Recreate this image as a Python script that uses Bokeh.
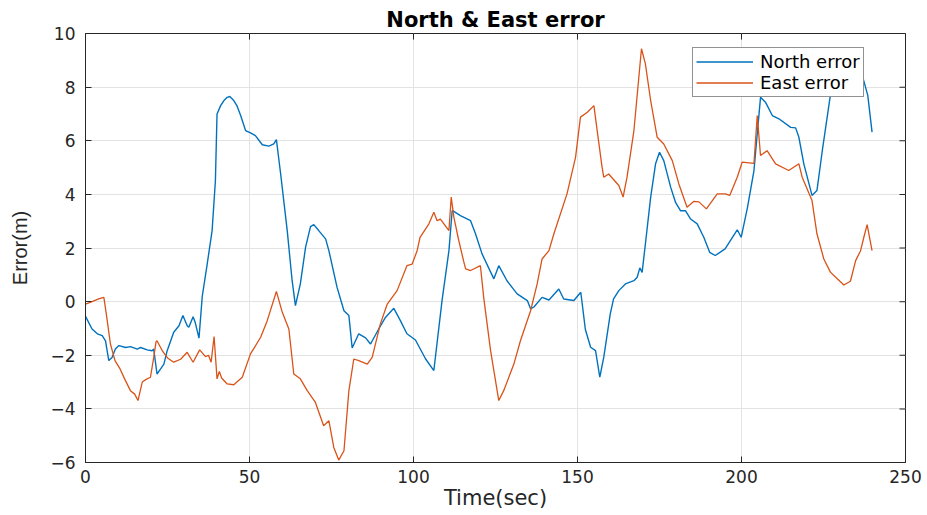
from bokeh.plotting import figure
from bokeh.models import FixedTicker, Range1d, Legend, LegendItem
from bokeh.embed import file_html
from bokeh.resources import INLINE

# ---- data ----
t_north = [0, 2, 3.6, 5.1, 6.1, 7.1, 8.1, 9.1, 10.2, 12.2, 13.7, 15.8, 16.8, 18.8, 20.3, 20.8,
           21.8, 22.9, 23.9, 24.9, 26.9, 28.5, 29.7, 31, 31.5, 32.8, 33.5, 34.6, 35.6, 37.1,
           38.6, 39.6, 40.1, 41.2, 42.2, 43.2, 44, 45.2, 46.2, 47.3, 48.8, 50.3, 51.8, 53.9,
           55.9, 57.4, 58.2, 59.5, 61.5, 63, 64, 65.5, 67.1, 68.6, 69.6, 71.1, 73.2, 74.2, 76.7,
           78.8, 80.3, 81.3, 83.3, 85.4, 86.9, 89.4, 91.5, 94, 96, 98, 100.6, 103.7, 106.2,
           108.7, 110.8, 111.8, 114.3, 117.4, 118.9, 120.9, 124.5, 126, 128.5, 131.6, 134.7,
           135.7, 136.7, 139.2, 141.3, 144.3, 145.8, 148.9, 151, 152.4, 154, 155.5, 156.8, 158,
           160, 161, 162.6, 164.6, 167.2, 168.2, 169, 169.7, 170.7, 172.3, 173.8, 175, 176.3,
           178.4, 179.9, 181.4, 182.9, 184.5, 186.5, 188.5, 190.3, 192, 195, 198.7, 199.9, 201.8,
           203.8, 205.8, 207.3, 209.4, 211.4, 215, 216.5, 217.5, 219, 221.5, 223, 224.6, 227,
           229, 232, 236, 238.5, 239.8]
north = [-0.55, -1.02, -1.2, -1.27, -1.46, -2.2, -2.08, -1.77, -1.64, -1.71, -1.68, -1.77, -1.71,
         -1.8, -1.83, -1.77, -2.7, -2.51, -2.33, -1.83, -1.14, -0.9, -0.52, -0.9, -0.96, -0.56,
         -0.8, -1.36, 0.2, 1.4, 2.65, 4.5, 7.0, 7.31, 7.5, 7.62, 7.65, 7.5, 7.3, 6.94, 6.38,
         6.29, 6.19, 5.85, 5.8, 5.88, 6.04, 4.76, 2.65, 0.78, -0.15, 0.66, 2.03, 2.8, 2.87, 2.65,
         2.34, 1.9, 0.53, -0.34, -0.52, -1.73, -1.2, -1.35, -1.58, -1.02, -0.58, -0.25, -0.71,
         -1.2, -1.43, -2.14, -2.57, 0.04, 1.9, 3.4, 3.21, 3.02, 2.53, 1.78, 0.85, 1.34, 0.78,
         0.29, 0.04, -0.27, -0.2, 0.16, 0.06, 0.47, 0.1, 0.04, 0.35, -1.04, -1.7, -1.83, -2.82,
         -2.08, -0.45, 0.1, 0.41, 0.66, 0.78, 0.91, 1.26, 1.09, 2.15, 3.89, 5.14, 5.57, 5.26,
         4.27, 3.7, 3.39, 3.39, 3.08, 2.9, 2.4, 1.84, 1.72, 1.97, 2.68, 2.4, 3.5, 4.89, 7.62,
         7.44, 6.94, 6.82, 6.5, 6.48, 6.13, 5.14, 3.96, 4.14, 5.6, 7.62, 8.6, 9.0, 8.8, 7.69,
         6.32]

t_east = [0, 2, 4, 5.6, 6.5, 7.6, 9, 10.5, 12, 13.7, 15, 16, 17.3, 18.5, 19.8, 20.8, 21.5, 21.8,
          23.5, 25, 26.9, 29, 31, 32.8, 34.8, 36.6, 37.5, 38.3, 39.2, 40.1, 40.8, 41.5, 43.2,
          45.2, 47.8, 50.3, 53.4, 55.4, 58.2, 60, 62, 63.5, 65.5, 67.6, 70.1, 72.6, 74.2, 75.7,
          77.2, 78.8, 80.3, 81.8, 83.3, 85.9, 87.4, 89.9, 92, 95, 98, 99.6, 101.1, 102, 104.7,
          106.2, 107.2, 108.2, 110.8, 111.5, 112.3, 113.8, 115.3, 115.9, 117.4, 120.4, 121.4,
          123.5, 126, 127.5, 130.6, 132.6, 135.7, 137.7, 139.2, 141.3, 142.8, 146.8, 149.4,
          150.9, 153, 155, 156, 157.5, 158, 159.5, 162.6, 163.9, 165.1, 167.2, 169.5, 170.7,
          172.3, 174.3, 176.3, 178.9, 180.9, 183.4, 185.5, 187, 189.3, 192.6, 195.1, 196.4,
          198.7, 200.2, 203.8, 204.8, 205.8, 207.8, 210.4, 214.4, 217.5, 218.5, 221.5, 223,
          225.1, 227.1, 229.2, 231.2, 233.2, 234.8, 236.3, 237.3, 238.3, 239.8]
east = [-0.09, 0.0, 0.1, 0.16, -0.6, -1.58, -2.2, -2.5, -2.9, -3.32, -3.45, -3.69, -3.0, -2.9,
        -2.82, -2.08, -1.5, -1.46, -1.85, -2.1, -2.26, -2.15, -1.89, -2.26, -1.8, -2.05, -2.0,
        -2.26, -1.3, -2.88, -2.6, -2.85, -3.07, -3.1, -2.82, -1.95, -1.33, -0.71, 0.38, -0.4,
        -1.02, -2.7, -2.88, -3.32, -3.76, -4.63, -4.44, -5.44, -5.91, -5.56, -3.32, -2.14,
        -2.2, -2.33, -2.08, -0.83, -0.09, 0.41, 1.34, 1.4, 1.9, 2.4, 2.9, 3.33, 3.02, 3.08,
        2.65, 3.9, 3.15, 2.28, 1.5, 1.22, 1.16, 1.34, 0.16, -1.83, -3.69, -3.32, -2.33, -1.46,
        -0.34, 0.66, 1.59, 1.9, 2.53, 4.02, 5.38, 6.88, 7.06, 7.31, 6.38, 5.01, 4.64, 4.76,
        4.33, 3.9, 4.64, 6.38, 9.43, 8.87, 7.5, 6.13, 5.88, 5.26, 4.39, 3.52, 3.74, 3.72, 3.46,
        4.02, 4.02, 3.96, 4.64, 5.2, 5.16, 6.94, 5.45, 5.63, 5.14, 4.89, 5.14, 4.64, 3.77, 2.53,
        1.59, 1.1, 0.85, 0.62, 0.76, 1.53, 1.9, 2.4, 2.87, 1.9]

x_ticks = [0, 50, 100, 150, 200, 250]
y_ticks = [-6, -4, -2, 0, 2, 4, 6, 8, 10]
title_text = "North & East error"
x_label = "Time(sec)"
y_label = "Error(m)"
series_names = ["North error", "East error"]

X_MIN, X_MAX = 0, 250
Y_MIN, Y_MAX = -6, 10

FONT = "DejaVu Sans"
AX = "#262626"
GRID = "#e3e3e3"

p = figure(width=927, height=515, output_backend="svg", toolbar_location=None,
           x_range=Range1d(X_MIN, X_MAX), y_range=Range1d(Y_MIN, Y_MAX),
           min_border_left=85, min_border_right=22, min_border_top=33, min_border_bottom=53,
           x_axis_label=x_label, y_axis_label=y_label)

p.title.text = title_text
p.title.align = "center"
p.title.text_font = FONT
p.title.text_font_size = "21px"
p.title.text_font_style = "bold"
p.title.text_color = "black"
p.title.standoff = 3

p.outline_line_color = AX
p.outline_line_width = 1
p.background_fill_color = "white"
p.border_fill_color = "white"

for ax in p.xaxis + p.yaxis:
    ax.axis_line_color = AX
    ax.major_tick_line_color = AX
    ax.major_tick_in = 6
    ax.major_tick_out = 0
    ax.minor_tick_line_color = None
    ax.major_label_text_font = FONT
    ax.major_label_text_font_size = "17px"
    ax.major_label_text_color = AX
    ax.axis_label_text_font_style = "normal"
    ax.axis_label_text_color = AX

p.xaxis.ticker = FixedTicker(ticks=x_ticks)
p.yaxis.ticker = FixedTicker(ticks=y_ticks)

p.xaxis.major_label_standoff = 7
p.xaxis.axis_label_standoff = 0
p.xaxis.axis_label_text_font = FONT
p.xaxis.axis_label_text_font_size = "21px"

p.yaxis.major_label_standoff = 10
p.yaxis.axis_label_standoff = 16
p.yaxis.axis_label_text_font = "Liberation Sans"
p.yaxis.axis_label_text_font_size = "20px"

p.xgrid.ticker = FixedTicker(ticks=x_ticks)
p.ygrid.ticker = FixedTicker(ticks=y_ticks)
p.grid.grid_line_color = GRID
p.grid.grid_line_width = 1

# inward ticks on the right and top edges of the box (clipped to the frame)
p.rect(x=[X_MAX] * len(y_ticks), y=y_ticks, width=12, height=1,
       width_units="screen", height_units="screen", fill_color=AX, line_color=None)
p.rect(x=x_ticks, y=[Y_MAX] * len(x_ticks), width=1, height=12,
       width_units="screen", height_units="screen", fill_color=AX, line_color=None)

r1 = p.line(t_north, north, line_color="#0072BD", line_width=1.4)
r2 = p.line(t_east, east, line_color="#D95319", line_width=1.3)

legend = Legend(items=[LegendItem(label=series_names[0], renderers=[r1]),
                       LegendItem(label=series_names[1], renderers=[r2])],
                location=(607, 365))
legend.padding = 3
legend.spacing = 0
legend.margin = 0
legend.glyph_width = 57
legend.glyph_height = 19
legend.label_height = 19
legend.label_standoff = 7
legend.label_text_font = FONT
legend.label_text_font_size = "18px"
legend.label_text_color = "black"
legend.border_line_color = AX
legend.border_line_width = 1
legend.background_fill_color = "white"
legend.background_fill_alpha = 1
p.add_layout(legend, "center")

open("out.html", "w").write(file_html(p, INLINE))
